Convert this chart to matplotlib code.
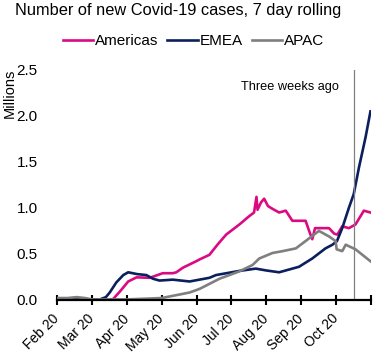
"""
New Covid-19 cases by region, 7 day rolling
"""
import matplotlib
matplotlib.use("Agg")
import matplotlib.pyplot as plt

plt.rcParams['font.family'] = ['Liberation Sans', 'DejaVu Sans']

# month positions (0 = Feb 20) and values in millions
month_labels = ["Feb 20", "Mar 20", "Apr 20", "May 20", "Jun 20", "Jul 20",
                "Aug 20", "Sep 20", "Oct 20", ""]

amer_x = [0, 1.0, 1.5, 1.61, 1.8, 2.04, 2.28, 2.66, 3.03, 3.32, 3.42, 3.61, 3.99,
          4.09, 4.37, 4.6, 4.85, 5.23, 5.51, 5.65, 5.72, 5.75, 5.85, 5.94, 6.05,
          6.18, 6.37, 6.56, 6.75, 7.13, 7.23, 7.32, 7.4, 7.51, 7.8, 7.95, 8.04,
          8.18, 8.37, 8.56, 8.8, 8.99]
amer_y = [0, 0, 0, 0.01, 0.09, 0.2, 0.245, 0.24, 0.29, 0.29, 0.30, 0.35, 0.42,
          0.44, 0.49, 0.6, 0.71, 0.82, 0.91, 0.95, 1.12, 0.98, 1.06, 1.1, 1.02,
          0.99, 0.95, 0.97, 0.86, 0.86, 0.75, 0.66, 0.78, 0.78, 0.78, 0.72, 0.71,
          0.80, 0.78, 0.82, 0.97, 0.95]

emea_x = [0, 1.23, 1.4, 1.51, 1.70, 1.9, 2.04, 2.3, 2.56, 2.75, 2.94, 3.32, 3.8,
          4.37, 4.56, 5.23, 5.7, 6.0, 6.37, 6.94, 7.32, 7.7, 7.9, 8.03, 8.18,
          8.37, 8.51, 8.66, 8.85, 8.99]
emea_y = [0.005, 0.005, 0.03, 0.08, 0.19, 0.27, 0.30, 0.28, 0.27, 0.23, 0.21,
          0.22, 0.2, 0.24, 0.27, 0.315, 0.34, 0.32, 0.30, 0.36, 0.45, 0.56, 0.6,
          0.64, 0.78, 1.0, 1.15, 1.44, 1.77, 2.05]

apac_x = [0, 0.3, 0.56, 0.8, 1.0, 2.0, 3.0, 3.4, 3.8, 4.09, 4.66, 5.23, 5.61,
          5.8, 6.18, 6.47, 6.85, 7.13, 7.51, 7.8, 7.99, 8.02, 8.18, 8.28, 8.56,
          8.99]
apac_y = [0.02, 0.02, 0.03, 0.02, 0.005, 0.005, 0.02, 0.05, 0.08, 0.12, 0.23,
          0.31, 0.38, 0.45, 0.51, 0.53, 0.56, 0.64, 0.75, 0.69, 0.64, 0.55, 0.53,
          0.60, 0.55, 0.42]

three_weeks_ago = 8.51

fig = plt.figure(figsize=(3.78, 3.57), dpi=100)
ax = fig.add_axes([0.151, 0.160, 0.830, 0.644])

ax.plot(amer_x, amer_y, color='#DB0A82', linewidth=1.9, label="Americas")
ax.plot(emea_x, emea_y, color='#0B1F5E', linewidth=1.9, label="EMEA")
ax.plot(apac_x, apac_y, color='#7F7F7F', linewidth=1.9, label="APAC")
ax.axvline(three_weeks_ago, color='#808080', linewidth=0.9)
ax.text(three_weeks_ago - 0.42, 2.32, "Three weeks ago", fontsize=9.2,
        ha='right', va='center')

ax.set_xlim(0, 9)
ax.set_ylim(0, 2.5)
ax.set_yticks([0, 0.5, 1.0, 1.5, 2.0, 2.5])
ax.set_yticklabels(["0.0", "0.5", "1.0", "1.5", "2.0", "2.5"], fontsize=11)
ax.tick_params(axis='y', length=0, pad=14)
ax.set_xticks(range(10))
ax.set_xticklabels(month_labels, fontsize=10, rotation=45, ha='right',
                   va='center', rotation_mode='anchor')
ax.tick_params(axis='x', direction='inout', length=7, width=1.5, pad=8.5)

for s in ['top', 'right', 'left']:
    ax.spines[s].set_visible(False)
ax.spines['bottom'].set_linewidth(1.6)

fig.text(178 / 378, 1 - 11 / 357, "Number of new Covid-19 cases, 7 day rolling",
         ha='center', va='center', fontsize=11.8)
fig.text(10 / 378, 1 - 93 / 357, "Millions", rotation=90, ha='center',
         va='center', fontsize=10.5)
fig.legend(loc='center', bbox_to_anchor=(0.512, 1 - 41 / 357), ncol=3,
           frameon=False, fontsize=11, handlelength=2.0, handletextpad=0.1,
           columnspacing=0.6)

plt.savefig("out.png", dpi=100)
